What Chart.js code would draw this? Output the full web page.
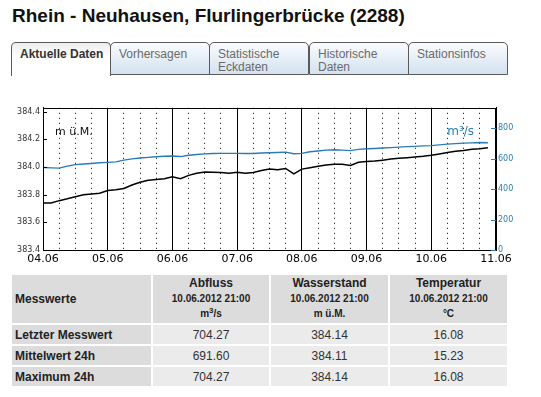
<!DOCTYPE html>
<html>
<head>
<meta charset="utf-8">
<script src="https://cdn.jsdelivr.net/npm/chart.js@4"></script>
<style>
  body { margin: 0; background: #fff; font-family: "Liberation Sans", Arial, sans-serif; width: 541px; height: 397px; overflow: hidden; position: relative; }
  h1 { position: absolute; left: 12px; top: 6px; margin: 0; font-size: 19px; line-height: 19px; font-weight: bold; color: #111; white-space: nowrap; }
  .tab { position: absolute; top: 42px; height: 33px; width: 100px; box-sizing: border-box; border: 1px solid #5a5a5a; border-radius: 5px 5px 0 0; padding: 5px 0 0 8px; font-size: 12px; line-height: 13px; color: #6a6a6a; background: linear-gradient(#fafcfe, #d3e1f1); }
  .tab.active { background: linear-gradient(#eeeeee, #ffffff 45%); border-bottom: none; color: #333; font-weight: bold; height: 34px; }
  #chartWrap { position: absolute; left: 0; top: 100px; width: 541px; height: 168px; }
  table { position: absolute; left: 10px; top: 273px; border-collapse: separate; border-spacing: 2px; table-layout: fixed; width: 499px; font-size: 12px; color: #222; }
  td, th { padding: 0; }
  th { background: #dcdcdc; height: 48px; font-weight: bold; text-align: center; line-height: 14.5px; }
  th.first { text-align: left; padding-left: 3px; font-size: 12px; }
  th .big { font-size: 12px; }
  th .small { font-size: 10px; }
  sup { font-size: 8px; line-height: 0; vertical-align: 4px; }
  td { height: 19px; background: #ebebeb; text-align: center; font-size: 12px; color: #333; }
  td.first { background: #dcdcdc; text-align: left; padding-left: 3px; font-weight: bold; color: #222; }
</style>
</head>
<body>
<h1>Rhein - Neuhausen, Flurlingerbrücke (2288)</h1>

<div class="tab active" style="left:11px">Aktuelle Daten</div>
<div class="tab" style="left:110px">Vorhersagen</div>
<div class="tab" style="left:209px">Statistische<br>Eckdaten</div>
<div class="tab" style="left:309px">Historische<br>Daten</div>
<div class="tab" style="left:408px">Stationsinfos</div>

<div id="chartWrap"><canvas id="chart" width="541" height="168"></canvas></div>

<table>
  <colgroup><col style="width:139px"><col style="width:116px"><col style="width:117px"><col style="width:117px"></colgroup>
  <tr>
    <th class="first">Messwerte</th>
    <th><span class="big">Abfluss</span><br><span class="small">10.06.2012 21:00</span><br><span class="small">m<sup>3</sup>/s</span></th>
    <th><span class="big">Wasserstand</span><br><span class="small">10.06.2012 21:00</span><br><span class="small">m ü.M.</span></th>
    <th><span class="big">Temperatur</span><br><span class="small">10.06.2012 21:00</span><br><span class="small">°C</span></th>
  </tr>
  <tr><td class="first">Letzter Messwert</td><td>704.27</td><td>384.14</td><td>16.08</td></tr>
  <tr><td class="first">Mittelwert 24h</td><td>691.60</td><td>384.11</td><td>15.23</td></tr>
  <tr><td class="first">Maximum 24h</td><td>704.27</td><td>384.14</td><td>16.08</td></tr>
</table>

<script>
// Day labels for the x axis (one per 24h)
const dayLabels = ['04.06', '05.06', '06.06', '07.06', '08.06', '09.06', '10.06', '11.06'];

// Hours since 04.06 00:00
const hours = [0, 3, 6, 9, 12, 15, 18, 21, 24, 27, 30, 33, 36, 39, 42, 45, 48, 51, 54, 57,
               60, 63, 66, 69, 72, 75, 78, 81, 84, 87, 90, 93, 96, 99, 102, 105, 108, 111, 114, 117,
               120, 123, 126, 129, 132, 135, 138, 141, 144, 147, 150, 153, 156, 159, 162, 165];

// Wasserstand (m ü.M.), left axis
const wasserstand = [383.74, 383.74, 383.757, 383.77, 383.785, 383.80, 383.805, 383.81, 383.83, 383.835,
                     383.845, 383.87, 383.89, 383.905, 383.91, 383.915, 383.93, 383.915, 383.94, 383.955,
                     383.965, 383.962, 383.96, 383.955, 383.962, 383.955, 383.96, 383.975, 383.985, 383.98,
                     383.99, 383.95, 383.985, 383.995, 384.005, 384.015, 384.02, 384.02, 384.012, 384.035,
                     384.04, 384.043, 384.05, 384.058, 384.063, 384.068, 384.073, 384.078, 384.085, 384.095,
                     384.105, 384.115, 384.12, 384.128, 384.133, 384.14];

// Abfluss (m3/s), right axis
const abfluss = [541, 539, 537, 550, 560, 564, 568, 572, 575, 578,
                 590, 598, 604, 608, 612, 615, 617, 613, 622, 627,
                 631, 633, 634, 634, 634, 633, 633, 636, 638, 640,
                 642, 632, 634, 645, 650, 655, 658, 655, 652, 660,
                 664, 666, 669, 672, 675, 678, 680, 683, 685, 690,
                 695, 698, 701, 703, 705, 704];

const levelTicks = [383.4, 383.6, 383.8, 384.0, 384.2, 384.4];
const flowTicks = [0, 200, 400, 600, 800];

const BLUE = '#2a7db4';

// Frame, inward tick marks and unit labels
const decorations = {
    id: 'decorations',
    afterDraw(chart) {
        const ctx = chart.ctx;
        const area = chart.chartArea;
        const yL = chart.scales.y;
        const yR = chart.scales.y1;
        ctx.save();
        ctx.strokeStyle = '#000';
        ctx.lineWidth = 1;
        ctx.strokeRect(Math.round(area.left) + 0.5, Math.round(area.top) + 0.5,
                       Math.round(area.right - area.left) - 1, Math.round(area.bottom - area.top));
        yL.ticks.forEach((t, i) => {
            const py = Math.round(yL.getPixelForTick(i)) + 0.5;
            ctx.beginPath();
            ctx.moveTo(area.left, py);
            ctx.lineTo(area.left + 4, py);
            ctx.stroke();
        });
        ctx.strokeStyle = BLUE;
        yR.ticks.forEach((t, i) => {
            const py = Math.round(yR.getPixelForTick(i)) + 0.5;
            ctx.beginPath();
            ctx.moveTo(area.right - 5, py);
            ctx.lineTo(area.right, py);
            ctx.stroke();
        });
        ctx.font = '11px "DejaVu Sans"';
        ctx.textBaseline = 'middle';
        ctx.fillStyle = '#111';
        ctx.textAlign = 'left';
        ctx.fillText('m ü.M.', area.left + 12, area.top + 24);
        ctx.fillStyle = BLUE;
        ctx.font = '12px "DejaVu Sans"';
        ctx.textAlign = 'right';
        ctx.fillText('m³/s', area.right - 22, area.top + 24);
        ctx.restore();
    }
};

const chart = new Chart(document.getElementById('chart').getContext('2d'), {
    type: 'line',
    data: {
        datasets: [{
            label: 'Wasserstand',
            data: hours.map((h, i) => ({ x: h, y: wasserstand[i] })),
            borderColor: '#000',
            borderWidth: 1.5,
            pointRadius: 0,
            yAxisID: 'y'
        }, {
            label: 'Abfluss',
            data: hours.map((h, i) => ({ x: h, y: abfluss[i] })),
            borderColor: BLUE,
            borderWidth: 1.4,
            pointRadius: 0,
            yAxisID: 'y1'
        }]
    },
    options: {
        responsive: false,
        animation: false,
        devicePixelRatio: 1,
        layout: { padding: { top: 6, left: 0, right: 0, bottom: 0 } },
        plugins: { legend: { display: false }, tooltip: { enabled: false } },
        scales: {
            x: {
                type: 'linear',
                min: 0,
                max: 168,
                afterBuildTicks: (scale) => {
                    scale.ticks = [];
                    for (let v = 0; v <= 168; v += 6) scale.ticks.push({ value: v });
                },
                ticks: {
                    autoSkip: false,
                    maxRotation: 0,
                    padding: 3,
                    color: '#000',
                    font: { family: 'DejaVu Sans', size: 11 },
                    callback: (v) => (v % 24 === 0 ? dayLabels[v / 24] : '')
                },
                grid: {
                    drawTicks: false,
                    color: '#000',
                    lineWidth: 1
                },
                border: {
                    display: true,
                    color: '#000',
                    dash: (ctx) => (ctx.tick && ctx.tick.value % 24 !== 0 ? [1, 4] : [])
                },
                afterFit: (scale) => { scale.height = 18; }
            },
            y: {
                position: 'left',
                min: 383.4,
                max: 384.4286,
                afterBuildTicks: (scale) => { scale.ticks = levelTicks.map(v => ({ value: v })); },
                ticks: {
                    padding: 3,
                    color: '#333',
                    font: { family: 'DejaVu Sans', size: 8 },
                    callback: (v) => v.toFixed(1)
                },
                grid: { drawOnChartArea: false, drawTicks: false },
                border: { color: '#000' },
                afterFit: (scale) => { scale.width = 43; }
            },
            y1: {
                position: 'right',
                min: 0,
                max: 933,
                afterBuildTicks: (scale) => { scale.ticks = flowTicks.map(v => ({ value: v })); },
                ticks: {
                    padding: 2,
                    color: BLUE,
                    font: { family: 'DejaVu Sans', size: 8 }
                },
                grid: { drawOnChartArea: false, drawTicks: false },
                border: { color: '#000' },
                afterFit: (scale) => { scale.width = 45; }
            }
        }
    },
    plugins: [decorations]
});
</script>
</body>
</html>
